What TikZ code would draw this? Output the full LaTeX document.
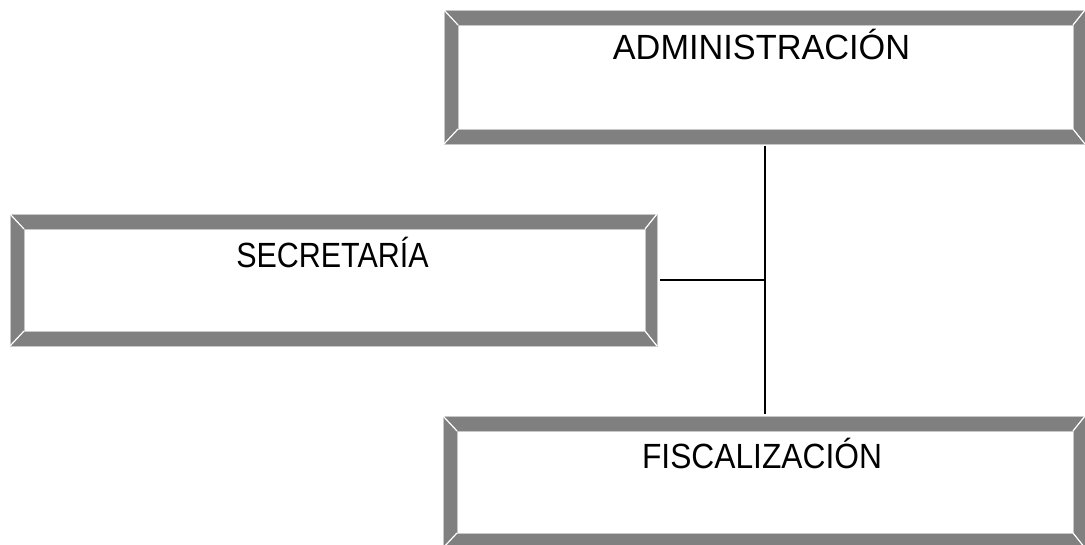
\documentclass[tikz,border=0pt]{standalone}
\usepackage{fontspec}
\setmainfont{Liberation Sans}
\definecolor{bevgray}{HTML}{808080}
\definecolor{edgegray}{HTML}{C8C8C8}
\tikzset{
  x=1pt, y=-1pt,
  boxnode/.style={inner sep=0pt, outer sep=0pt, draw=none, rectangle},
  lbl/.style={anchor=base, inner sep=0pt, font=\fontsize{35}{42}\selectfont},
  conn/.style={draw=black, line width=1.4pt},
  bevline/.style={draw=white, line width=1.2pt},
}
% #1 name, #2 x1, #3 y1, #4 x2, #5 y2
\newcommand{\bevelbox}[5]{%
  \fill[bevgray] (#2,#3) rectangle (#4,#5);
  \draw[edgegray, line width=0.8pt] (#2,#3) rectangle (#4,#5);
  \fill[white] ({#2+14},{#3+15}) rectangle ({#4-12},{#5-15});
  \draw[edgegray, line width=0.8pt] ({#2+14},{#3+15}) rectangle ({#4-12},{#5-15});
  \draw[bevline] (#2,#3) -- ({#2+14},{#3+15});
  \draw[bevline] (#2,#5) -- ({#2+14},{#5-15});
  \draw[bevline] (#4,#3) -- ({#4-12},{#3+15});
  \draw[bevline] (#4,#5) -- ({#4-12},{#5-15});
  \node[boxnode, minimum width={(#4-#2)*1pt}, minimum height={(#5-#3)*1pt}] (#1) at ({(#2+#4)/2},{(#3+#5)/2}) {};
}
\begin{document}
\begin{tikzpicture}
\useasboundingbox (0,0) rectangle (1085,545);
\fill[white] (0,0) rectangle (1085,545);
\bevelbox{adm}{444}{10}{1085}{144}
\bevelbox{sec}{10}{214}{657}{346}
\bevelbox{fis}{443}{416}{1085}{548}
\node[lbl] (admt) at (761.5,60) {\scalebox{0.98}[1]{ADMINISTRACIÓN}};
\node[lbl] (sect) at (332.5,268) {\scalebox{0.87}[1]{SECRETARÍA}};
\node[lbl] (fist) at (762,468) {\scalebox{0.907}[1]{FISCALIZACIÓN}};
\coordinate (j) at (765,280);
\draw[conn] ([yshift=-2pt]adm.south -| j) -- ([yshift=2pt]fis.north -| j);
\draw[conn] ([xshift=3pt]sec.east) -- (j);
\end{tikzpicture}
\end{document}
